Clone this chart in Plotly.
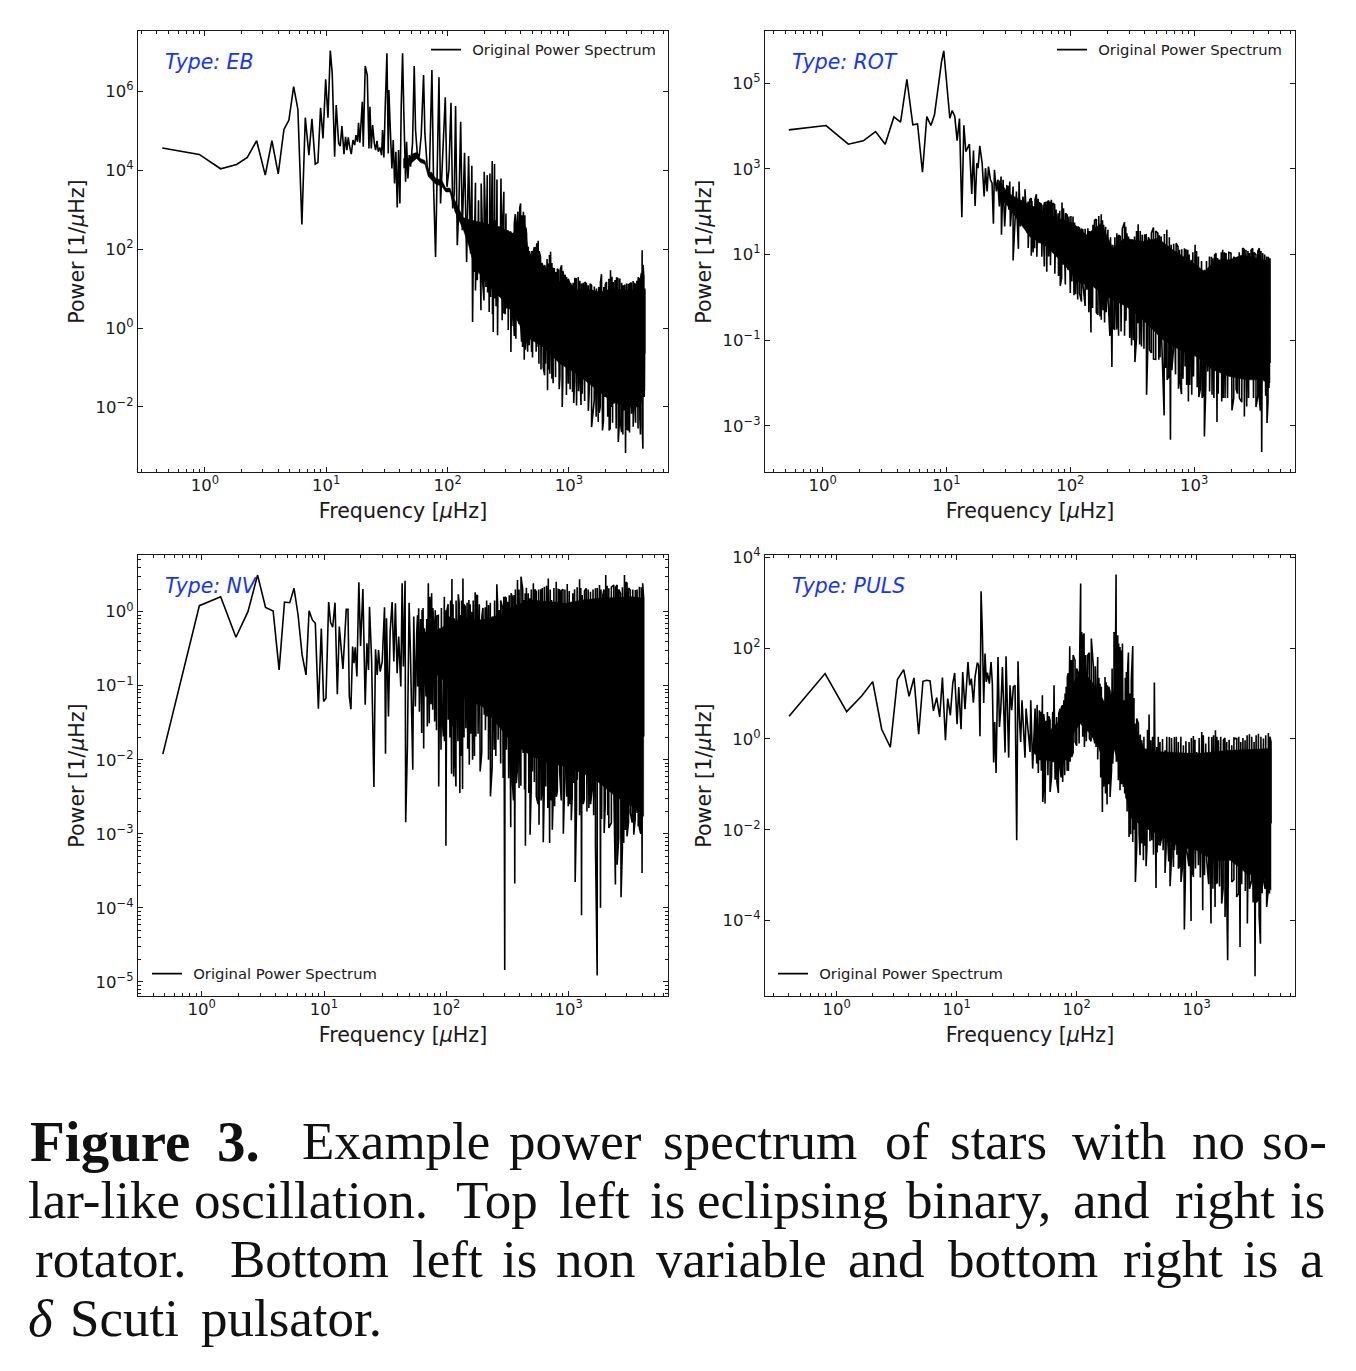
import numpy as np
import plotly.graph_objects as go

# Power spectra, stored as log10(frequency / uHz) and log10(power).
# *_line: resolved low-frequency part; *_top / *_bot: main peak and dip tips of the dense part;
# *_minor: smaller peaks and dips between those; *_body_top / *_body_bot: edges of the solid region.
eb_line_f = [-0.352,-0.047,0.129,0.261,0.349,0.426,0.497,0.552,0.604,0.651,0.692,0.731,0.766,0.799,0.827,0.857,0.882,0.909,0.931,0.953,0.973,0.995,1.014,1.033,1.049,1.069,1.082,1.102,1.115,1.129,1.146,1.159,1.170,1.181,1.192,1.206,1.220,1.234,1.245,1.258,1.266,1.277,1.297,1.305,1.321,1.338,1.352,1.360,1.371,1.382,1.396,1.407,1.418,1.429,1.442,1.456,1.464,1.475,1.486,1.500,1.511,1.516,1.527,1.541,1.552,1.563,1.574,1.585,1.596,1.607,1.618,1.629,1.640,1.654,1.662,1.673,1.684,1.695,1.711,1.725,1.736,1.750,1.766,1.783,1.802,1.813,1.832,1.849,1.871,1.885,1.901,1.915,1.929,1.942,1.956,1.981,1.995,2.011,2.028,2.042,2.055,2.066,2.080,2.093,2.108,2.121,2.140,2.157,2.173,2.190,2.200]
eb_line_p = [4.562,4.401,4.037,4.147,4.325,4.748,3.876,4.748,3.910,5.036,5.272,6.118,5.543,2.624,5.332,4.384,5.306,4.156,4.198,5.585,4.807,6.305,5.332,7.032,6.457,4.342,5.653,4.680,4.613,5.120,4.410,4.849,4.511,4.832,4.613,4.410,4.765,4.638,4.892,4.722,5.205,4.697,5.738,4.596,6.643,6.415,4.553,5.611,4.553,5.146,4.680,4.511,4.748,4.469,4.579,4.384,5.019,4.325,5.611,6.964,4.426,6.034,5.103,4.046,4.765,3.665,4.469,3.056,4.511,3.157,5.653,6.964,5.357,3.707,4.722,3.792,4.384,4.088,4.680,6.643,5.019,4.426,4.342,4.892,6.415,4.934,4.088,3.834,6.541,3.538,1.804,4.257,6.355,3.157,4.173,5.848,3.580,4.003,5.712,3.030,3.411,5.628,2.100,3.073,5.230,2.481,4.443,1.677,4.359,1.888,4.113]
eb_top_f = [2.214,2.230,2.241,2.255,2.266,2.277,2.288,2.302,2.313,2.327,2.338,2.349,2.360,2.368,2.376,2.387,2.398,2.407,2.420,2.440,2.451,2.464,2.475,2.481,2.497,2.508,2.530,2.541,2.558,2.568,2.602,2.615,2.637,2.651,2.665,2.684,2.706,2.725,2.747,2.766,2.788,2.807,2.830,2.849,2.871,2.893,2.915,2.940,2.959,2.981,3.003,3.022,3.049,3.077,3.104,3.132,3.159,3.187,3.228,3.247,3.269,3.288,3.310,3.343,3.365,3.393,3.420,3.448,3.475,3.503,3.530,3.552,3.571,3.591,3.604,3.618,3.626]
eb_top_p = [2.396,3.682,2.565,3.242,2.565,3.665,2.396,3.961,2.565,3.876,2.565,3.919,2.565,4.232,2.734,4.156,2.734,3.766,2.565,3.792,2.481,3.453,2.396,2.904,2.481,2.396,2.227,2.396,2.887,2.565,3.157,2.861,2.861,2.396,2.058,1.719,1.931,2.058,2.210,1.804,1.550,1.508,1.634,1.931,1.508,1.423,1.465,1.592,1.296,1.296,1.169,1.068,1.254,1.296,1.127,1.169,1.084,1.084,1.000,1.042,1.364,1.042,1.169,1.465,1.169,1.279,1.254,1.084,1.127,1.127,1.195,1.127,1.279,1.254,1.973,1.296,1.000]
eb_bot_f = [2.206,2.217,2.245,2.261,2.275,2.288,2.316,2.343,2.354,2.376,2.390,2.412,2.431,2.464,2.486,2.522,2.541,2.563,2.582,2.602,2.618,2.632,2.651,2.673,2.692,2.720,2.736,2.753,2.788,2.807,2.824,2.843,2.860,2.898,2.926,2.945,2.962,2.995,3.030,3.047,3.063,3.091,3.110,3.146,3.168,3.187,3.209,3.242,3.258,3.277,3.297,3.332,3.352,3.371,3.407,3.420,3.434,3.453,3.467,3.489,3.516,3.538,3.558,3.585,3.599,3.610,3.621,3.626]
eb_bot_p = [0.154,1.423,1.212,1.381,0.451,1.212,1.043,0.408,0.789,-0.099,0.747,-0.184,0.789,0.366,0.493,-0.607,0.493,-0.269,0.620,0.112,-0.480,-0.802,-0.226,-0.438,-0.607,-0.142,-0.480,-0.903,-0.988,-0.903,-1.580,-1.157,-1.284,-0.818,-1.242,-2.003,-0.903,-1.411,-1.622,-1.326,-1.961,-1.072,-1.665,-1.242,-1.580,-2.511,-1.834,-2.384,-2.003,-2.595,-1.749,-2.595,-2.003,-1.918,-2.891,-2.257,-2.637,-2.088,-3.171,-2.595,-2.172,-1.834,-1.665,-2.299,-1.834,-3.060,-1.749,-0.649]
eb_minor_f = [2.23,2.30,2.33,2.37,2.40,2.45,2.475,2.50,2.53,2.55,2.59,2.61,2.64,2.66,2.70,2.73,2.77,2.80,2.83,2.87,2.89,2.92,2.95,2.98,3.01,3.04,3.08,3.10,3.13,3.16,3.20,3.225,3.25,3.285,3.32,3.34,3.36,3.39,3.415,3.445,3.48,3.50,3.53,3.55,3.57,3.59,3.605,2.52,2.55,2.58,2.595,2.625,2.645,2.675,2.695,2.715,2.735,2.755,2.778,2.80,2.82,2.84,2.86,2.88,2.905,2.93,2.95,2.97,2.995,3.012,3.035,3.06,3.09,3.118,3.145,3.175,3.21,3.26,3.30,3.33,3.355,3.38,3.405,3.435,3.46,3.49,3.515,3.54,3.56,3.58,3.598,3.611]
eb_minor_p = [0.95,0.70,0.90,0.35,0.55,0.20,0.35,-0.05,0.05,-0.20,0.10,-0.35,-0.55,-0.60,-0.75,-0.60,-1.05,-1.20,-1.05,-1.40,-1.25,-1.55,-1.35,-1.70,-1.55,-1.90,-1.60,-1.95,-1.85,-2.10,-2.05,-2.25,-2.15,-2.35,-2.25,-2.55,-2.40,-2.55,-2.45,-2.70,-2.55,-2.65,-2.50,-2.40,-2.55,-2.70,-2.50,2.45,2.65,2.95,3.05,2.95,2.55,1.95,1.95,2.05,2.15,1.95,1.65,1.60,1.75,1.85,1.65,1.50,1.50,1.50,1.45,1.35,1.25,1.15,1.15,1.25,1.20,1.15,1.12,1.12,1.05,1.15,1.10,1.25,1.30,1.22,1.25,1.15,1.10,1.12,1.15,1.15,1.20,1.25,1.40,1.60]
eb_body_top_f = [1.635,1.680,1.710,1.745,1.775,1.813,1.840,1.868,1.900,1.951,1.985,2.019,2.050,2.074,2.129,2.200,2.431,2.541,2.602,2.637,2.665,2.706,2.747,2.788,2.849,2.898,2.981,3.052,3.146,3.255,3.365,3.475,3.626]
eb_body_top_p = [4.300,4.300,4.420,4.450,4.300,4.250,3.950,3.950,3.800,3.750,3.550,3.550,3.300,3.150,2.800,2.734,2.565,2.396,2.819,2.650,1.973,1.719,1.973,1.381,1.634,1.212,1.127,0.958,1.000,0.915,1.000,0.958,0.958]
eb_body_bot_f = [1.635,1.689,1.745,1.775,1.813,1.840,1.868,1.900,1.951,1.985,2.019,2.061,2.129,2.173,2.206,2.294,2.431,2.541,2.651,2.788,2.926,3.063,3.201,3.338,3.475,3.585,3.626]
eb_body_bot_p = [4.050,4.150,4.300,4.200,4.150,3.850,3.750,3.650,3.600,3.450,3.450,2.950,2.500,2.100,1.720,1.212,0.789,0.366,-0.226,-0.480,-0.903,-1.157,-1.495,-1.834,-2.003,-2.003,-1.580]

rot_line_f = [-0.274,0.027,0.207,0.328,0.427,0.505,0.575,0.629,0.680,0.728,0.766,0.806,0.841,0.874,0.903,0.960,0.978,1.000,1.027,1.046,1.067,1.086,1.105,1.124,1.140,1.156,1.185,1.204,1.218,1.231,1.245,1.255,1.269,1.288,1.304,1.315,1.328,1.339,1.355,1.368,1.379,1.387,1.403,1.414,1.427,1.441,1.444,1.457,1.470,1.487]
rot_line_p = [3.911,4.012,3.576,3.654,3.872,3.576,4.214,4.089,5.093,4.027,4.051,2.922,4.222,4.012,4.261,5.506,5.755,5.039,4.183,4.362,4.222,3.661,4.175,1.872,4.019,3.405,3.576,2.416,3.428,2.136,3.132,3.016,3.537,3.132,2.354,3.016,2.471,3.054,2.743,2.665,1.716,2.977,2.471,2.743,2.121,2.821,1.459,2.743,1.654,2.600]
rot_top_f = [1.497,1.511,1.538,1.565,1.586,1.618,1.634,1.659,1.672,1.685,1.704,1.726,1.753,1.780,1.801,1.825,1.847,1.874,1.901,1.933,1.962,1.989,2.022,2.048,2.075,2.102,2.142,2.169,2.183,2.210,2.250,2.269,2.304,2.344,2.376,2.403,2.438,2.457,2.484,2.519,2.548,2.581,2.613,2.640,2.672,2.707,2.734,2.780,2.815,2.855,2.882,2.922,2.949,2.976,3.008,3.035,3.083,3.124,3.151,3.177,3.204,3.231,3.258,3.298,3.339,3.392,3.419,3.446,3.473,3.500,3.527,3.554,3.586,3.613]
rot_top_p = [2.588,2.704,2.588,2.471,2.704,2.354,2.525,2.237,2.277,2.316,2.121,2.409,2.199,2.160,2.214,2.261,2.277,2.160,1.965,2.214,1.965,1.888,1.888,1.615,1.615,1.576,1.615,1.460,1.693,1.825,1.942,1.693,1.576,1.226,1.498,1.421,1.755,1.498,1.343,1.421,1.709,1.460,1.460,1.343,1.631,1.498,1.421,1.576,1.226,1.265,1.109,1.148,1.109,0.876,1.226,0.954,0.642,0.954,0.915,1.032,0.759,1.109,1.032,1.032,0.837,1.148,1.109,1.032,1.148,0.993,1.148,1.032,0.954,0.915]
rot_bot_f = [1.503,1.516,1.538,1.551,1.570,1.581,1.597,1.632,1.653,1.685,1.712,1.747,1.790,1.825,1.860,1.892,1.919,1.941,1.981,2.013,2.043,2.075,2.102,2.134,2.167,2.188,2.223,2.250,2.277,2.304,2.336,2.358,2.390,2.438,2.468,2.495,2.522,2.546,2.575,2.616,2.640,2.672,2.715,2.734,2.758,2.782,2.809,2.833,2.874,2.898,2.927,2.954,2.981,3.011,3.038,3.065,3.083,3.110,3.145,3.185,3.204,3.223,3.250,3.306,3.339,3.366,3.406,3.425,3.460,3.500,3.527,3.546,3.567,3.589,3.605,3.613]
rot_bot_p = [2.043,1.654,0.860,1.809,1.887,1.132,1.654,1.654,1.498,0.969,1.148,1.265,0.720,0.954,1.187,0.954,0.269,0.759,0.642,0.370,0.074,0.098,0.292,0.175,-0.821,0.331,-0.408,-0.525,-0.587,0.020,-1.630,-0.758,-0.898,-0.898,0.720,-1.124,-1.513,-0.603,-1.148,-2.276,-1.225,-1.443,-1.459,-0.603,-2.758,-1.926,-3.327,-1.225,-2.136,-2.260,-1.614,-2.432,-2.276,-1.225,-2.330,-2.354,-3.249,-1.731,-2.276,-2.914,-1.225,-2.432,-2.354,-2.642,-2.136,-2.354,-2.782,-2.548,-1.614,-2.564,-2.354,-3.614,-1.965,-2.937,-2.120,-1.537]
rot_minor_f = [1.66,1.70,1.73,1.77,1.81,1.84,1.875,1.905,1.93,1.96,2.00,2.03,2.06,2.09,2.12,2.15,2.18,2.21,2.24,2.265,2.29,2.32,2.345,2.375,2.41,2.45,2.48,2.51,2.535,2.56,2.595,2.625,2.655,2.69,2.725,2.77,2.795,2.82,2.85,2.885,2.91,2.94,2.965,2.995,3.025,3.05,3.075,3.095,3.125,3.16,3.195,3.235,3.27,3.32,3.35,3.385,3.44,3.48,3.515,3.535,3.578,3.597,1.69,1.715,1.74,1.765,1.79,1.815,1.835,1.86,1.885,1.915,1.945,1.975,2.005,2.035,2.06,2.09,2.12,2.155,2.196,2.23,2.26,2.285,2.325,2.36,2.39,2.42,2.448,2.47,2.50,2.535,2.565,2.60,2.63,2.655,2.69,2.72,2.76,2.80,2.835,2.87,2.90,2.935,2.96,2.99,3.02,3.06,3.10,3.14,3.165,3.19,3.22,3.245,3.28,3.32,3.365,3.405,3.435,3.46,3.485,3.515,3.54,3.57,3.60]
rot_minor_p = [1.15,1.05,0.95,0.95,0.60,0.75,0.55,0.50,0.45,0.30,0.10,0.05,-0.05,-0.10,-0.20,-0.35,-0.25,-0.35,-0.45,-0.30,-0.35,-0.90,-0.70,-0.75,-0.80,-0.55,-0.95,-1.00,-0.95,-1.10,-1.20,-1.30,-1.30,-1.45,-1.40,-1.65,-1.85,-1.70,-1.80,-1.95,-1.90,-2.05,-2.05,-1.85,-2.10,-2.15,-2.25,-2.05,-2.20,-2.35,-2.25,-2.35,-2.35,-2.35,-2.25,-2.45,-2.35,-2.35,-2.30,-2.65,-2.30,-2.45,2.25,2.28,2.30,2.18,2.20,2.22,2.24,2.20,2.05,2.02,2.08,1.92,1.90,1.75,1.65,1.60,1.60,1.55,1.80,1.90,1.80,1.65,1.40,1.40,1.45,1.60,1.65,1.42,1.35,1.55,1.55,1.45,1.40,1.50,1.55,1.45,1.48,1.40,1.25,1.18,1.12,1.12,1.00,1.05,1.08,0.85,0.85,0.95,0.98,0.92,1.05,1.05,1.05,0.95,1.05,1.12,1.08,1.10,1.05,1.08,1.08,1.00,0.95]
rot_body_top_f = [1.420,1.497,1.672,1.780,1.901,2.022,2.129,2.250,2.344,2.438,2.586,2.707,2.828,2.976,3.083,3.177,3.285,3.392,3.613]
rot_body_top_p = [2.750,2.432,2.160,2.004,1.849,1.732,1.460,1.732,1.148,1.382,1.304,1.382,1.109,0.837,0.603,0.876,0.876,0.992,0.837]
rot_body_bot_f = [1.420,1.497,1.672,1.806,1.941,2.075,2.183,2.290,2.452,2.586,2.747,2.882,3.016,3.151,3.285,3.419,3.554,3.613]
rot_body_bot_p = [2.350,2.121,1.421,1.187,0.798,0.331,0.253,0.020,-0.214,-0.525,-0.992,-1.225,-1.381,-1.692,-1.848,-1.926,-1.926,-2.003]

nv_line_f = [-0.318,-0.019,0.155,0.280,0.378,0.457,0.522,0.584,0.633,0.677,0.720,0.755,0.788,0.821,0.853,0.878,0.905,0.929,0.954,0.978,0.997,1.016,1.038,1.054,1.071,1.090,1.109,1.125,1.155,1.182,1.196,1.207,1.220,1.234,1.245,1.255,1.269,1.285,1.299,1.318,1.337,1.351,1.364,1.372,1.389,1.408,1.421,1.435,1.446,1.459,1.476,1.495,1.503,1.511,1.527,1.541,1.557,1.571,1.584,1.598,1.611,1.628,1.639,1.649,1.663,1.668,1.682,1.696,1.707,1.726,1.734]
nv_line_p = [-1.924,0.081,0.202,-0.346,0.000,0.494,0.058,0.009,-0.787,0.130,0.121,0.315,-0.045,-0.584,-0.854,0.013,-0.112,-0.157,-1.312,-0.229,-1.213,-1.169,0.130,-0.148,-0.211,0.121,-1.115,-0.202,-0.773,0.031,0.031,-1.146,-1.317,-0.472,-0.697,-0.481,-0.876,0.396,-0.463,0.306,-1.258,-0.427,-0.787,0.067,-0.629,-2.369,-0.508,-0.854,-0.517,-0.809,-0.674,0.058,-1.919,-0.090,-1.416,-0.270,0.130,-0.674,0.112,-0.831,-0.337,-1.011,0.382,-0.742,0.418,-2.845,-1.820,0.121,-0.562,-2.135,-0.067]
nv_top_f = [1.758,1.774,1.802,1.821,1.853,1.870,1.880,1.899,1.921,1.948,1.984,2.005,2.024,2.046,2.065,2.098,2.114,2.136,2.155,2.185,2.207,2.236,2.255,2.291,2.318,2.345,2.378,2.413,2.432,2.459,2.481,2.503,2.530,2.554,2.582,2.611,2.636,2.655,2.682,2.712,2.736,2.772,2.802,2.834,2.861,2.899,2.927,2.954,2.989,3.022,3.049,3.090,3.111,3.144,3.179,3.220,3.253,3.280,3.304,3.329,3.370,3.397,3.424,3.457,3.478,3.505,3.546,3.579,3.606,3.614]
nv_top_p = [-0.292,0.045,0.022,-0.225,0.382,0.045,0.247,-0.202,-0.058,-0.225,0.202,0.013,-0.067,0.440,-0.090,0.234,-0.045,0.449,0.067,0.157,0.000,0.261,0.216,-0.067,0.058,0.090,-0.067,0.369,0.022,0.058,0.202,0.135,0.247,0.225,0.427,0.472,0.157,0.324,0.180,0.382,0.270,0.301,0.337,0.449,0.157,0.404,0.292,0.301,0.373,0.135,0.301,0.436,0.225,0.315,0.270,0.315,0.360,0.225,0.494,0.315,0.360,0.360,0.247,0.494,0.382,0.292,0.292,0.337,0.382,0.180]
nv_bot_f = [1.747,1.766,1.799,1.815,1.834,1.861,1.889,1.905,1.938,1.957,1.976,1.997,2.016,2.043,2.060,2.079,2.111,2.133,2.160,2.188,2.215,2.242,2.277,2.310,2.332,2.361,2.391,2.424,2.465,2.478,2.492,2.527,2.541,2.560,2.573,2.595,2.628,2.647,2.666,2.685,2.704,2.736,2.758,2.785,2.793,2.813,2.845,2.867,2.886,2.908,2.927,2.957,2.970,2.997,3.022,3.041,3.054,3.071,3.106,3.128,3.166,3.193,3.220,3.234,3.247,3.261,3.291,3.307,3.329,3.370,3.383,3.397,3.429,3.451,3.478,3.505,3.533,3.560,3.579,3.601,3.614]
nv_bot_p = [-1.281,-1.011,-1.640,-1.847,-1.146,-1.506,-1.326,-1.483,-2.360,-1.865,-1.685,-3.160,-1.461,-2.189,-2.225,-2.360,-2.449,-2.396,-1.573,-2.067,-2.000,-1.685,-2.157,-1.393,-1.416,-2.494,-1.865,-1.730,-2.247,-4.840,-1.865,-2.912,-2.315,-3.672,-2.315,-2.382,-1.910,-3.160,-1.685,-3.011,-2.157,-2.494,-2.876,-2.315,-3.115,-2.360,-3.124,-2.944,-2.629,-2.427,-2.157,-2.998,-2.225,-2.629,-2.818,-2.315,-3.649,-2.270,-4.099,-2.539,-2.652,-2.382,-3.169,-4.912,-2.270,-4.000,-2.989,-2.090,-2.921,-2.404,-3.685,-3.416,-3.856,-3.124,-3.034,-2.719,-3.011,-2.719,-2.921,-3.528,-1.685]
nv_minor_f = [1.78,1.81,1.845,1.875,1.92,1.965,1.985,2.03,2.05,2.07,2.095,2.12,2.145,2.175,2.20,2.23,2.26,2.29,2.32,2.345,2.375,2.405,2.445,2.51,2.55,2.58,2.61,2.64,2.675,2.695,2.72,2.75,2.775,2.80,2.83,2.855,2.875,2.90,2.94,2.985,3.01,3.03,3.065,3.09,3.12,3.15,3.18,3.205,3.27,3.30,3.32,3.35,3.41,3.44,3.465,3.49,3.52,3.545,3.57,3.59,1.765,1.79,1.81,1.84,1.865,1.89,1.91,1.935,1.96,1.995,2.015,2.035,2.055,2.08,2.105,2.125,2.145,2.17,2.195,2.22,2.245,2.27,2.30,2.33,2.36,2.395,2.42,2.445,2.47,2.49,2.515,2.54,2.565,2.595,2.625,2.645,2.67,2.695,2.725,2.755,2.785,2.82,2.85,2.88,2.915,2.94,2.97,3.005,3.035,3.07,3.10,3.13,3.16,3.20,3.235,3.265,3.29,3.315,3.35,3.385,3.41,3.44,3.47,3.49,3.525,3.56,3.595]
nv_minor_p = [-1.35,-1.15,-1.55,-1.25,-1.60,-1.40,-1.75,-1.70,-1.55,-1.90,-1.75,-1.95,-1.70,-1.85,-1.65,-1.95,-1.65,-1.90,-1.60,-2.00,-2.10,-1.95,-2.05,-2.25,-2.55,-2.15,-2.35,-2.40,-2.45,-2.35,-2.30,-2.60,-2.55,-2.50,-2.65,-2.55,-2.45,-2.50,-2.55,-2.50,-2.60,-2.50,-2.65,-2.75,-2.60,-2.70,-2.60,-2.75,-2.80,-2.60,-2.75,-2.85,-3.05,-3.20,-2.95,-2.85,-2.85,-2.80,-2.90,-3.00,-0.05,-0.10,0.05,-0.10,0.20,0.05,0.02,-0.05,0.05,0.02,0.10,0.15,0.10,0.15,0.12,0.15,0.10,0.12,0.10,0.15,0.22,0.10,0.05,0.15,0.12,0.15,0.10,0.15,0.20,0.18,0.22,0.20,0.30,0.30,0.30,0.25,0.25,0.30,0.30,0.30,0.32,0.35,0.30,0.32,0.30,0.28,0.30,0.28,0.25,0.33,0.32,0.28,0.30,0.30,0.32,0.30,0.30,0.35,0.33,0.33,0.30,0.33,0.40,0.32,0.30,0.30,0.33]
nv_body_top_f = [1.800,1.889,1.943,2.024,2.160,2.296,2.432,2.568,2.704,2.976,3.111,3.247,3.519,3.614]
nv_body_top_p = [-0.300,-0.225,-0.247,-0.135,-0.090,-0.112,-0.045,0.090,0.157,0.112,0.157,0.180,0.202,0.180]
nv_body_bot_f = [1.800,1.889,2.024,2.160,2.296,2.405,2.541,2.704,2.840,2.976,3.111,3.220,3.383,3.519,3.614]
nv_body_bot_p = [-0.550,-0.800,-1.000,-1.191,-1.281,-1.506,-1.775,-1.955,-2.045,-2.090,-2.180,-2.270,-2.494,-2.629,-2.764]

puls_line_f = [-0.397,-0.097,0.083,0.208,0.300,0.375,0.447,0.506,0.558,0.603,0.644,0.683,0.719,0.750,0.778,0.806,0.833,0.858,0.881,0.906,0.925,0.947,0.967,0.983,1.003,1.017,1.036,1.050,1.069,1.094,1.108,1.122,1.139,1.153,1.172,1.183,1.194,1.203,1.214,1.225,1.236,1.247,1.256,1.272,1.286,1.297,1.308,1.317,1.328,1.344,1.356,1.367,1.381,1.403,1.411,1.433,1.444,1.458,1.472,1.486,1.500,1.511,1.522,1.533,1.544,1.556,1.569,1.578,1.594,1.611,1.617,1.633]
puls_line_p = [0.499,1.439,0.602,0.947,1.262,0.213,-0.183,1.306,1.527,0.939,1.343,0.103,1.270,1.292,1.277,0.617,0.910,0.484,1.350,-0.029,0.888,0.521,1.218,1.453,0.323,1.145,0.213,1.475,0.653,1.695,1.182,1.328,0.800,1.365,1.681,1.622,0.059,3.251,2.319,0.793,1.879,1.255,1.461,1.218,1.695,1.218,-0.521,0.374,-0.749,1.806,0.264,0.631,1.585,-0.301,1.820,-0.411,1.182,0.631,1.145,1.182,-2.231,1.710,0.484,-0.066,0.851,0.264,-0.411,0.668,0.264,-0.286,0.851,-0.653]
puls_top_f = [1.653,1.689,1.714,1.736,1.756,1.778,1.811,1.833,1.861,1.883,1.903,1.922,1.942,1.958,1.986,2.014,2.033,2.042,2.061,2.092,2.122,2.139,2.175,2.194,2.217,2.236,2.256,2.278,2.311,2.328,2.342,2.361,2.381,2.397,2.414,2.431,2.444,2.467,2.486,2.514,2.542,2.575,2.603,2.617,2.647,2.667,2.694,2.736,2.772,2.814,2.847,2.889,2.936,2.972,3.000,3.042,3.075,3.125,3.156,3.181,3.222,3.250,3.292,3.333,3.367,3.403,3.439,3.478,3.514,3.556,3.597,3.619]
puls_top_p = [0.668,0.631,0.961,0.264,0.594,0.411,1.182,0.484,0.668,0.741,0.998,1.365,2.040,1.732,1.732,1.439,3.420,2.356,2.319,1.842,2.209,1.585,1.806,1.218,0.778,1.365,1.182,1.035,2.356,3.618,2.283,2.026,2.099,0.851,1.475,1.901,0.998,2.048,0.338,0.338,-0.029,-0.213,0.536,-0.029,1.240,-0.176,-0.066,-0.250,0.044,0.044,-0.066,-0.139,-0.066,0.066,-0.286,0.154,-0.103,0.044,0.191,-0.029,-0.029,-0.066,-0.139,0.007,-0.066,-0.029,0.103,-0.066,0.117,0.007,0.132,-0.066]
puls_bot_f = [1.667,1.694,1.717,1.736,1.750,1.778,1.806,1.847,1.861,1.883,1.911,1.931,1.958,1.986,2.014,2.033,2.064,2.106,2.139,2.161,2.186,2.214,2.233,2.253,2.278,2.300,2.319,2.347,2.361,2.389,2.411,2.436,2.467,2.489,2.514,2.528,2.556,2.578,2.597,2.625,2.661,2.681,2.708,2.736,2.756,2.778,2.806,2.828,2.847,2.869,2.897,2.917,2.953,2.972,3.014,3.050,3.083,3.119,3.153,3.172,3.208,3.236,3.258,3.278,3.292,3.333,3.361,3.389,3.422,3.458,3.486,3.508,3.531,3.556,3.583,3.606,3.619]
puls_bot_p = [-0.543,-0.470,-1.387,-1.424,-0.470,-1.167,-0.286,-1.189,-0.617,-0.947,-0.470,-0.705,-0.396,-0.066,-0.029,0.778,-0.176,0.007,0.117,-0.176,-0.176,-1.607,-0.617,-1.446,-1.277,-0.543,0.338,-0.910,-1.130,-1.057,-1.314,-2.158,-2.268,-3.149,-1.057,-2.561,-2.672,-2.804,-1.607,-2.231,-3.281,-2.341,-2.158,-2.950,-2.084,-3.244,-2.818,-1.901,-2.855,-3.149,-4.198,-2.451,-4.007,-3.039,-2.782,-3.772,-2.672,-4.066,-3.699,-3.185,-3.626,-3.919,-4.873,-2.525,-3.149,-3.479,-4.580,-2.855,-4.066,-3.112,-5.226,-3.552,-4.507,-3.112,-3.699,-3.405,-1.864]
puls_minor_f = [1.68,1.705,1.725,1.76,1.79,1.82,1.835,1.87,1.90,1.92,1.945,1.97,2.00,2.02,2.05,2.08,2.12,2.15,2.175,2.20,2.225,2.24,2.265,2.29,2.31,2.33,2.355,2.375,2.40,2.42,2.45,2.478,2.50,2.52,2.54,2.565,2.585,2.61,2.64,2.67,2.695,2.72,2.745,2.767,2.79,2.815,2.835,2.858,2.88,2.905,2.935,2.96,2.99,3.03,3.065,3.10,3.135,3.16,3.19,3.22,3.25,3.31,3.35,3.375,3.405,3.44,3.47,3.497,3.52,3.545,3.57,3.595,1.67,1.70,1.725,1.745,1.767,1.80,1.85,1.872,1.893,1.912,1.93,1.95,1.97,2.00,2.025,2.05,2.075,2.105,2.155,2.185,2.205,2.245,2.267,2.295,2.35,2.372,2.405,2.425,2.455,2.477,2.50,2.53,2.56,2.59,2.632,2.68,2.715,2.75,2.79,2.83,2.868,2.91,2.955,2.985,3.02,3.055,3.10,3.14,3.168,3.20,3.235,3.27,3.31,3.35,3.385,3.42,3.458,3.495,3.535,3.575,3.61]
puls_minor_p = [-0.75,-0.70,-1.05,-0.80,-0.85,-0.90,-0.95,-0.85,-0.80,-0.70,-0.50,-0.30,-0.15,-0.10,0.05,-0.05,-0.05,-0.10,-0.45,-0.85,-1.05,-1.20,-1.00,-0.70,0.05,-0.50,-0.85,-1.00,-1.20,-1.60,-2.10,-2.00,-2.40,-2.10,-2.30,-2.35,-2.40,-2.25,-2.55,-2.50,-2.35,-2.45,-2.40,-2.70,-2.60,-2.45,-2.55,-2.80,-2.85,-3.10,-2.80,-3.00,-2.85,-3.05,-3.00,-3.20,-3.30,-3.20,-3.25,-3.30,-3.45,-3.10,-3.40,-3.20,-3.35,-3.30,-3.60,-3.60,-3.90,-3.40,-3.30,-3.35,0.75,0.60,0.55,0.40,0.50,0.60,0.55,0.70,0.85,1.15,1.45,1.70,1.85,1.55,1.85,2.25,1.85,1.90,1.60,1.35,1.15,1.25,1.15,1.55,2.10,1.95,1.35,1.55,1.30,0.90,0.45,0.10,0.05,0.20,0.05,0.05,0.00,0.05,0.02,0.05,0.05,-0.05,0.02,-0.02,0.02,0.08,0.05,0.08,0.05,0.05,0.02,-0.02,0.02,0.05,0.02,0.08,0.05,0.08,0.05,0.08,0.05]
puls_body_top_f = [1.644,1.750,1.861,1.917,2.000,2.083,2.181,2.236,2.306,2.417,2.500,2.569,2.722,3.000,3.278,3.619]
puls_body_top_p = [0.411,0.117,0.411,0.998,1.365,1.402,1.072,0.778,1.072,0.705,0.191,-0.250,-0.286,-0.323,-0.250,-0.213]
puls_body_bot_f = [1.644,1.750,1.861,1.917,1.972,2.028,2.111,2.181,2.236,2.306,2.389,2.444,2.556,2.722,2.861,3.000,3.139,3.278,3.417,3.556,3.619]
puls_body_bot_p = [-0.323,-0.470,-0.543,-0.396,0.117,0.338,0.117,-0.176,-0.617,-0.176,-0.910,-1.717,-1.938,-2.158,-2.378,-2.451,-2.672,-2.672,-2.965,-3.039,-3.332]

x_tick_exponents = [0, 1, 2, 3]
eb_y_tick_exponents = [-2, 0, 2, 4, 6]
rot_y_tick_exponents = [-3, -1, 1, 3, 5]
nv_y_tick_exponents = [-5, -4, -3, -2, -1, 0]
puls_y_tick_exponents = [-4, -2, 0, 2, 4]

SERIES_NAME = "\u00a0\u200aOriginal Power Spectrum"
W, H = 1356, 1371
INK = "#1a1a1a"
SANS = "DejaVu Sans"


def power_labels(exponents):
    return [f"10<sup>{str(k).replace('-', '−')}</sup>" for k in exponents]


def spectrum(line, *tip_sets):
    """Join the low-frequency line to the dense part, visiting all peak and dip tips in frequency order."""
    f = np.concatenate([t[0] for t in tip_sets])
    p = np.concatenate([t[1] for t in tip_sets])
    order = np.argsort(f, kind="stable")
    return np.concatenate([line[0], f[order]]), np.concatenate([line[1], p[order]])


# One entry per panel: spectrum arrays, frame in page pixels, axis ranges (log10), y ticks.
panels = [
    dict(label="Type: EB", line=(eb_line_f, eb_line_p), top=(eb_top_f, eb_top_p), bot=(eb_bot_f, eb_bot_p),
         minor=(eb_minor_f, eb_minor_p), body_top=(eb_body_top_f, eb_body_top_p), body_bot=(eb_body_bot_f, eb_body_bot_p),
         frame=(138, 668, 31, 472), xr=(-0.552, 3.817), yr=(-3.65, 7.53), yt=eb_y_tick_exponents, yminor=False,
         legend_xy=(426, 50)),
    dict(label="Type: ROT", line=(rot_line_f, rot_line_p), top=(rot_top_f, rot_top_p), bot=(rot_bot_f, rot_bot_p),
         minor=(rot_minor_f, rot_minor_p), body_top=(rot_body_top_f, rot_body_top_p), body_bot=(rot_body_bot_f, rot_body_bot_p),
         frame=(765, 1295, 31, 472), xr=(-0.466, 3.815), yr=(-4.08, 6.22), yt=rot_y_tick_exponents, yminor=False,
         legend_xy=(1052, 50)),
    dict(label="Type: NV", line=(nv_line_f, nv_line_p), top=(nv_top_f, nv_top_p), bot=(nv_bot_f, nv_bot_p),
         minor=(nv_minor_f, nv_minor_p), body_top=(nv_body_top_f, nv_body_top_p), body_bot=(nv_body_bot_f, nv_body_bot_p),
         frame=(138, 668, 555, 996), xr=(-0.521, 3.813), yr=(-5.19, 0.765), yt=nv_y_tick_exponents, yminor=True,
         legend_xy=(147, 974)),
    dict(label="Type: PULS", line=(puls_line_f, puls_line_p), top=(puls_top_f, puls_top_p), bot=(puls_bot_f, puls_bot_p),
         minor=(puls_minor_f, puls_minor_p), body_top=(puls_body_top_f, puls_body_top_p), body_bot=(puls_body_bot_f, puls_body_bot_p),
         frame=(765, 1295, 555, 996), xr=(-0.5975, 3.819), yr=(-5.66, 4.05), yt=puls_y_tick_exponents, yminor=False,
         legend_xy=(773, 974)),
]

fig = go.Figure()
layout = {}
annotations = []
minor_ticks = dict(ticks="inside", ticklen=3, tickwidth=1, tickcolor=INK, dtick="D1")

for i, p in enumerate(panels):
    n = "" if i == 0 else str(i + 1)
    xname, yname, lname = f"x{n}", f"y{n}", f"legend{n}"
    x0, x1, y0, y1 = p["frame"]

    # Solid region of the dense part, then the spectrum line over it.
    body_f = np.concatenate([p["body_top"][0], p["body_bot"][0][::-1]])
    body_p = np.concatenate([p["body_top"][1], p["body_bot"][1][::-1]])
    fig.add_trace(go.Scatter(x=10 ** body_f, y=10 ** body_p, mode="lines", fill="toself", fillcolor="black",
                             line=dict(color="black", width=0.5), xaxis=xname, yaxis=yname, showlegend=False))
    log_f, log_p = spectrum(p["line"], p["top"], p["bot"], p["minor"])
    fig.add_trace(go.Scatter(x=10 ** log_f, y=10 ** log_p, mode="lines", name=SERIES_NAME,
                             line=dict(color="black", width=1.6), xaxis=xname, yaxis=yname, legend=lname))

    common = dict(type="log", showgrid=False, zeroline=False, showline=True, linecolor=INK, linewidth=1.2,
                  mirror="ticks", ticks="inside", ticklen=5, tickwidth=1, tickcolor=INK, tickmode="array",
                  tickfont=dict(family=SANS, size=16.5, color=INK))
    layout[f"xaxis{n}"] = dict(common, domain=[x0 / W, x1 / W], range=list(p["xr"]), anchor=yname,
                               tickvals=[10.0 ** k for k in x_tick_exponents],
                               ticktext=power_labels(x_tick_exponents), ticklabelstandoff=-2, minor=minor_ticks,
                               title=dict(text="Frequency [<i>μ</i>Hz]", standoff=9,
                                          font=dict(family=SANS, size=20.6, color=INK)))
    yaxis = dict(common, domain=[1 - y1 / H, 1 - y0 / H], range=list(p["yr"]), anchor=xname,
                 tickvals=[10.0 ** k for k in p["yt"]], ticktext=power_labels(p["yt"]),
                 title=dict(text="Power [1/<i>μ</i>Hz]", standoff=5,
                            font=dict(family=SANS, size=20.6, color=INK)))
    if p["yminor"]:
        yaxis["minor"] = minor_ticks
    layout[f"yaxis{n}"] = yaxis

    layout[lname] = dict(x=p["legend_xy"][0] / W, y=1 - p["legend_xy"][1] / H, xanchor="left", yanchor="middle",
                         bgcolor="rgba(0,0,0,0)", borderwidth=0, itemwidth=30,
                         font=dict(family=SANS, size=14.8, color=INK))

    annotations.append(dict(text=f"<i>{p['label']}</i>", x=(x0 + 25) / W, y=1 - (y0 + 31) / H,
                            xref="paper", yref="paper", xanchor="left", yanchor="middle", showarrow=False,
                            font=dict(family=SANS, size=20.4, color="#1433ff")))

# Justified caption under the panels, laid out word by word: (text, centre in px).
caption_lines = [
    (1141, [("<b>Figure</b>", 110), ("<b>3.</b>", 238), ("Example", 396), ("power", 575), ("spectrum", 760),
            ("of", 907), ("stars", 998), ("with", 1119), ("no", 1218), ("so-", 1294)]),
    (1200, [("lar-like", 104), ("oscillation.", 311), ("Top", 497), ("left", 594), ("is", 667), ("eclipsing", 792),
            ("binary,", 978), ("and", 1111), ("right", 1225), ("is", 1307)]),
    (1259, [("rotator.", 111), ("Bottom", 309), ("left", 447), ("is", 519), ("non", 596), ("variable", 741),
            ("and", 886), ("bottom", 1023), ("right", 1173), ("is", 1260), ("a", 1312)]),
    (1318, [("<i>δ</i>", 41), ("Scuti", 124), ("pulsator.", 291)]),
]
for y_px, words in caption_lines:
    for word, x_px in words:
        annotations.append(dict(text=word, x=x_px / W, y=1 - y_px / H, xref="paper", yref="paper",
                                xanchor="center", yanchor="middle", showarrow=False,
                                font=dict(family="Liberation Serif", size=57 if word.startswith("<b>") else 53,
                                          color="#111111")))

fig.update_layout(width=W, height=H, margin=dict(l=0, r=0, t=0, b=0, autoexpand=False),
                  paper_bgcolor="white", plot_bgcolor="white", annotations=annotations, **layout)
fig.write_html("out.html")
